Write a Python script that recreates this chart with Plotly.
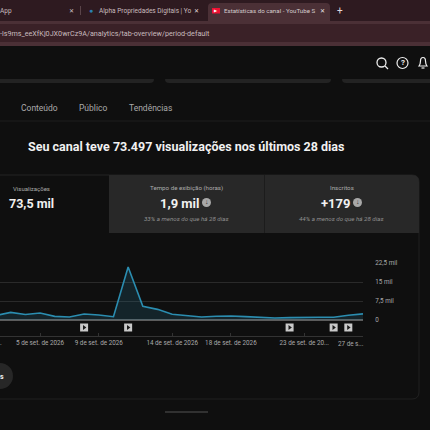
import plotly.graph_objects as go

dates = ['2026-08-31', '2026-09-01', '2026-09-02', '2026-09-03', '2026-09-04', '2026-09-05', '2026-09-06',
         '2026-09-07', '2026-09-08', '2026-09-09', '2026-09-10', '2026-09-11', '2026-09-12', '2026-09-13',
         '2026-09-14', '2026-09-15', '2026-09-16', '2026-09-17', '2026-09-18', '2026-09-19', '2026-09-20',
         '2026-09-21', '2026-09-22', '2026-09-23', '2026-09-24', '2026-09-25', '2026-09-26', '2026-09-27']
views = [2000, 2200, 1800, 3000, 2200, 2750, 1450,
         1200, 2350, 2000, 1300, 20900, 5400, 4200,
         2250, 1700, 1200, 1500, 1600, 1350, 950,
         800, 950, 1100, 1100, 1100, 1900, 2400]

video_dates = ['2026-09-08', '2026-09-11', '2026-09-22', '2026-09-25', '2026-09-26']
video_y = [-2960, -2960, -2960, -2960, -2960]

y_ticks = [0, 7500, 15000, 22500]
y_labels = ['0', '7,5 mil', '15 mil', '22,5 mil']
x_ticks = ['2026-09-05', '2026-09-09', '2026-09-14', '2026-09-18', '2026-09-23', '2026-09-27']
x_labels = ['5 de set. de 2026', '9 de set. de 2026', '14 de set. de 2026', '18 de set. de 2026',
            '23 de set. de 20...', '']

BG = '#0f0f0f'
SIZE = 430


def px(x):
    return x / SIZE


def py(y):
    return 1 - y / SIZE


def rect(fig, x0, y0, x1, y1, color, line=None):
    fig.add_shape(type='rect', xref='paper', yref='paper', x0=px(x0), x1=px(x1), y0=py(y0), y1=py(y1),
                  fillcolor=color, line=dict(color=line or color, width=1 if line else 0), layer='below')


def hline(fig, x0, x1, y, color, width=1):
    fig.add_shape(type='line', xref='paper', yref='paper', x0=px(x0), x1=px(x1), y0=py(y), y1=py(y),
                  line=dict(color=color, width=width), layer='below')


def text(fig, x, y, s, size, color, anchor='center', font='Roboto', bold=False):
    if bold:
        s = '<b>' + s + '</b>'
    fig.add_annotation(xref='paper', yref='paper', x=px(x), y=py(y), text=s, showarrow=False,
                       xanchor=anchor, yanchor='middle', font=dict(size=size, color=color, family=font),
                       borderpad=0, borderwidth=0)


def rounded_path(x0, y0, x1, y1, r):
    # bottom corners only, for the cropped pills under the top bar
    return (f'M {px(x0)} {py(y0)} L {px(x1)} {py(y0)} L {px(x1)} {py(y1 - r)} '
            f'Q {px(x1)} {py(y1)} {px(x1 - r)} {py(y1)} L {px(x0 + r)} {py(y1)} '
            f'Q {px(x0)} {py(y1)} {px(x0)} {py(y1 - r)} Z')


fig = go.Figure()

fig.add_trace(go.Scatter(x=dates, y=views, mode='lines', fill='tozeroy', fillcolor='rgba(46,143,176,0.17)',
                         line=dict(color='#2b8db0', width=1.6), hoverinfo='skip', showlegend=False))
fig.add_trace(go.Scatter(x=video_dates, y=video_y, mode='markers', showlegend=False,
                         marker=dict(symbol='square', size=8, color='#c9c9c9'), hoverinfo='skip'))
fig.add_trace(go.Scatter(x=video_dates, y=video_y, mode='markers', showlegend=False,
                         marker=dict(symbol='triangle-right', size=4.5, color='#1a1a1a'), hoverinfo='skip'))

# browser chrome
rect(fig, 0, 0, 430, 21, '#2e1a20')
rect(fig, 0, 21, 430, 46, '#4b3036')
rect(fig, 0, 24, 430, 42, '#3a2127')
fig.add_shape(type='path', xref='paper', yref='paper', layer='below', fillcolor='#4b3036', line_width=0,
              path=f'M {px(208)} {py(21)} L {px(208)} {py(7)} Q {px(208)} {py(3)} {px(212)} {py(3)} '
                   f'L {px(326)} {py(3)} Q {px(330)} {py(3)} {px(330)} {py(7)} L {px(330)} {py(21)} Z')
rect(fig, 0, 46, 430, 430, BG)
fig.add_shape(type='line', xref='paper', yref='paper', x0=px(80.5), x1=px(80.5), y0=py(6), y1=py(15),
              line=dict(color='#5a4449', width=1), layer='below')
rect(fig, 212, 8, 220, 13.5, '#ee1133')
text(fig, 216, 10.8, '▶', 4, '#ffffff')
text(fig, 0, 11, 'App', 6.5, '#c9bcbf', anchor='left')
text(fig, 71, 11, '✕', 6, '#cfc4c6')
text(fig, 91, 11, '●', 7, '#2a7fb0')
text(fig, 99, 11, 'Alpha Propriedades Digitais | Yo', 6.5, '#c9bcbf', anchor='left')
text(fig, 196.5, 11, '✕', 6, '#e2dadb')
text(fig, 224, 11, 'Estatísticas do canal - YouTube S', 6.2, '#d5cccd', anchor='left')
text(fig, 322, 11, '✕', 6, '#e8e2e3')
text(fig, 340, 11, '+', 10, '#e2dadb')
text(fig, 0, 33.5, '-ls9ms_eeXfKj0JX0wrCz9A/analytics/tab-overview/period-default', 7.2, '#c9bcbf', anchor='left')

# top bar
for x0, x1 in [(-10, 154), (165, 331), (342, 440)]:
    fig.add_shape(type='path', xref='paper', yref='paper', layer='below', fillcolor='#232323', line_width=0,
                  path=rounded_path(x0, 79, x1, 83, 4))
fig.add_shape(type='circle', xref='paper', yref='paper', x0=px(377), x1=px(386), y0=py(67), y1=py(58),
              line=dict(color='#eeeeee', width=1.3))
fig.add_shape(type='line', xref='paper', yref='paper', x0=px(385), x1=px(388), y0=py(66), y1=py(69),
              line=dict(color='#eeeeee', width=1.3))
fig.add_shape(type='circle', xref='paper', yref='paper', x0=px(397), x1=px(408), y0=py(68.5), y1=py(57.5),
              line=dict(color='#eeeeee', width=1.2))
text(fig, 402.5, 63, '?', 8, '#eeeeee', bold=True)
fig.add_shape(type='path', xref='paper', yref='paper', line=dict(color='#eeeeee', width=1.2),
              path=f'M {px(419)} {py(66)} Q {px(420.5)} {py(64)} {px(420.5)} {py(61)} Q {px(420.5)} {py(57.5)} {px(423)} {py(57.5)} '
                   f'Q {px(425.5)} {py(57.5)} {px(425.5)} {py(61)} Q {px(425.5)} {py(64)} {px(427)} {py(66)} Z')
fig.add_shape(type='line', xref='paper', yref='paper', x0=px(421.5), x1=px(424.5), y0=py(68), y1=py(68),
              line=dict(color='#eeeeee', width=1.2))

# tabs
text(fig, 39.5, 108, 'Conteúdo', 8.5, '#aaaaaa', font='Roboto', bold=False)
text(fig, 93, 108, 'Público', 8.5, '#aaaaaa')
text(fig, 150, 108, 'Tendências', 8.5, '#aaaaaa')
hline(fig, 0, 430, 121, '#1e1e1e')

text(fig, 186, 146, 'Seu canal teve 73.497 visualizações nos últimos 28 dias', 12.5, '#f1f1f1', bold=True)

# card
fig.add_shape(type='path', xref='paper', yref='paper', layer='below', fillcolor=BG, line=dict(color='#212121', width=1),
              path=f'M {px(-5)} {py(175)} L {px(412)} {py(175)} Q {px(419)} {py(175)} {px(419)} {py(182)} '
                   f'L {px(419)} {py(392)} Q {px(419)} {py(399)} {px(412)} {py(399)} L {px(-5)} {py(399)} Z')
fig.add_shape(type='path', xref='paper', yref='paper', layer='below', fillcolor='#282828', line_width=0,
              path=f'M {px(109)} {py(233)} L {px(109)} {py(175)} L {px(412)} {py(175)} Q {px(419)} {py(175)} {px(419)} {py(182)} '
                   f'L {px(419)} {py(233)} Z')
hline(fig, 0, 109, 175, '#1c1c1c')
fig.add_shape(type='line', xref='paper', yref='paper', x0=px(264.5), x1=px(264.5), y0=py(175), y1=py(233),
              line=dict(color='#1c1c1c', width=1), layer='below')

text(fig, 31.5, 188, 'Visualizações', 6, '#aaaaaa')
text(fig, 31.5, 203, '73,5 mil', 12.5, '#f1f1f1', bold=True)
text(fig, 186.5, 188, 'Tempo de exibição (horas)', 6.2, '#aaaaaa')
text(fig, 180, 203, '1,9 mil', 13, '#f1f1f1', bold=True)
text(fig, 186.5, 219, '<i>33% a menos do que há 28 dias</i>', 6.2, '#909090', font='Roboto')
text(fig, 341.5, 188, 'Inscritos', 6.2, '#aaaaaa')
text(fig, 335, 203, '+179', 13, '#f1f1f1', bold=True)
text(fig, 341.5, 219, '<i>44% a menos do que há 28 dias</i>', 6.2, '#909090')
for cx in [206.5, 357.5]:
    fig.add_shape(type='circle', xref='paper', yref='paper', x0=px(cx - 4.5), x1=px(cx + 4.5), y0=py(202.5 + 4.5), y1=py(202.5 - 4.5),
                  fillcolor='#a8a8a8', line_width=0, layer='below')
    text(fig, cx, 202.5, '↓', 7, '#282828', bold=True)

# clipped axis label and chip
text(fig, 1, 343, '.', 6.3, '#aaaaaa')
text(fig, 363.5, 344, '27 de s...', 6.3, '#aaaaaa', anchor='right')
fig.add_shape(type='circle', xref='paper', yref='paper', x0=px(-13), x1=px(13), y0=py(389), y1=py(363),
              fillcolor='#272727', line_width=0, layer='below')
text(fig, 2, 376.5, 's', 7, '#f1f1f1', bold=True)
hline(fig, 165, 208, 412, '#555555')

fig.update_layout(
    width=SIZE, height=SIZE, margin=dict(l=0, r=0, t=0, b=0), paper_bgcolor=BG, plot_bgcolor='rgba(0,0,0,0)',
    font=dict(family='Roboto', color='#aaaaaa', size=6.3), showlegend=False,
    xaxis=dict(range=['2026-09-02 06:30', '2026-09-27'], domain=[0, 363 / SIZE], anchor='free', position=py(336),
               tickmode='array', tickvals=x_ticks, ticktext=x_labels, ticks='inside', ticklen=3, tickcolor='#333333',
               showline=True, linecolor='#333333', linewidth=1, showgrid=False, zeroline=False, tickangle=0,
               automargin=False, tickfont=dict(size=6.3, color='#aaaaaa')),
    # range runs below zero so the video markers stay inside the plot
    yaxis=dict(range=[-5130, 22500], domain=[py(333), py(263)], side='right', anchor='x',
               tickmode='array', tickvals=y_ticks, ticktext=y_labels, showgrid=True, gridcolor='#2a2a2a', gridwidth=1,
               zeroline=True, zerolinecolor='#5c5c5c', zerolinewidth=2, showline=False, ticks='outside', ticklen=10,
               tickcolor='rgba(0,0,0,0)', automargin=False, tickfont=dict(size=6.3, color='#aaaaaa')),
)

fig.write_html("out.html", config=dict(displayModeBar=False), post_script="document.body.style.margin = '0';")
